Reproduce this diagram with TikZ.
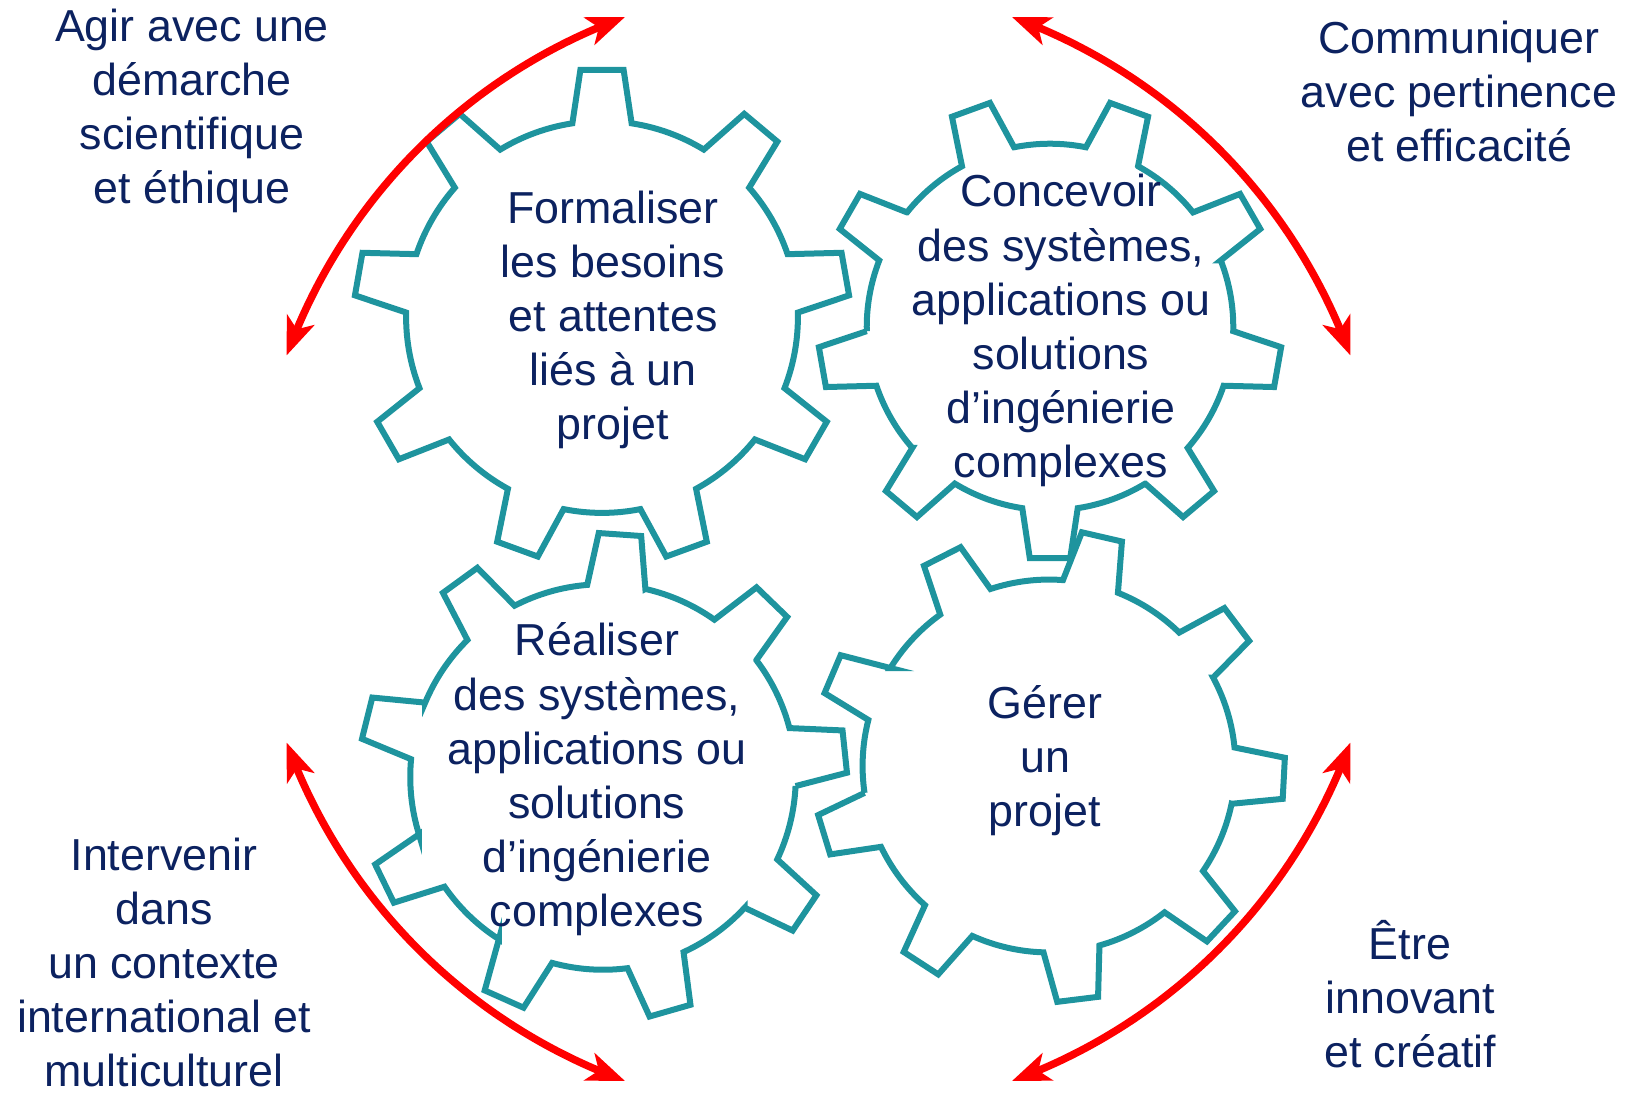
\documentclass[tikz,border=0pt]{standalone}
\usepackage{fontspec}
\setmainfont{Liberation Sans}
\usetikzlibrary{arrows.meta,bending,calc}
\definecolor{gearteal}{RGB}{30,148,158}
\definecolor{inkblue}{RGB}{12,34,96}
% gear outline: #1 name, #2 centre, #3 tip radius, #4 angle of one tooth
\newcommand{\gear}[4]{%
  \coordinate (#1) at (#2);
  \begin{scope}[shift={(#1)},rotate=#4]
    \draw[gearline] (-8.7:0.79*#3) \foreach \a in {0,40,...,320}{
      -- (\a-8.7:0.79*#3) -- (\a-5:#3) -- (\a+5:#3) -- (\a+8.7:0.79*#3)
      arc[start angle=\a+8.7, end angle=\a+31.3, radius=0.79*#3]} -- cycle;
  \end{scope}}
\tikzset{
  gearline/.style={draw=gearteal, line width=6pt},
  skill/.style={text=inkblue, align=center, inner sep=0pt, anchor=base,
    font=\fontsize{44.8}{54.2}\selectfont},
  redarc/.style={draw=red, line width=7.5pt,
    >={Stealth[length=38pt,width=29pt,inset=10pt]}, <->},
}

\begin{document}
\begin{tikzpicture}[x=1pt,y=1pt]
\useasboundingbox (0,0) rectangle (1629,1094);
%gears
\gear{g1}{602,777}{248}{90}
\gear{g2}{1050,767}{232}{70}
\gear{g3}{603,317}{244}{86}
\gear{g4}{1049,328}{236}{77}
%texts sit on the baseline of their last line
\node[skill] (formaliser) at (613,654) {Formaliser\\les besoins\\et attentes\\liés à un\\projet};
\node[skill] (concevoir) at (1061,616) {Concevoir\\des systèmes,\\applications ou\\solutions\\d’ingénierie\\complexes};
\node[skill] (realiser) at (597,167) {Réaliser\\des systèmes,\\applications ou\\solutions\\d’ingénierie\\complexes};
\node[skill] (gerer) at (1045,267) {Gérer\\un\\projet};
%cross-cutting skills
\node[skill] (agir) at (192,890) {Agir avec une\\démarche\\scientifique\\et éthique};
\node[skill] (communiquer) at (1459,932) {Communiquer\\avec pertinence\\et efficacité};
\node[skill] (intervenir) at (164,7) {Intervenir\\dans\\un contexte\\international et\\multiculturel};
\node[skill] (etre) at (1410,26) {Être\\innovant\\et créatif};
%red arcs
\coordinate (mid) at (818.5,545);
\coordinate (tlA) at ($(mid)+(110:566)$);
\coordinate (trA) at ($(mid)+(20:566)$);
\coordinate (blA) at ($(mid)+(200:566)$);
\coordinate (brA) at ($(mid)+(290:566)$);
\draw[redarc] (tlA) arc[start angle=110, end angle=160, radius=566];
\draw[redarc] (trA) arc[start angle=20, end angle=70, radius=566];
\draw[redarc] (blA) arc[start angle=200, end angle=250, radius=566];
\draw[redarc] (brA) arc[start angle=290, end angle=340, radius=566];
\end{tikzpicture}
\end{document}
